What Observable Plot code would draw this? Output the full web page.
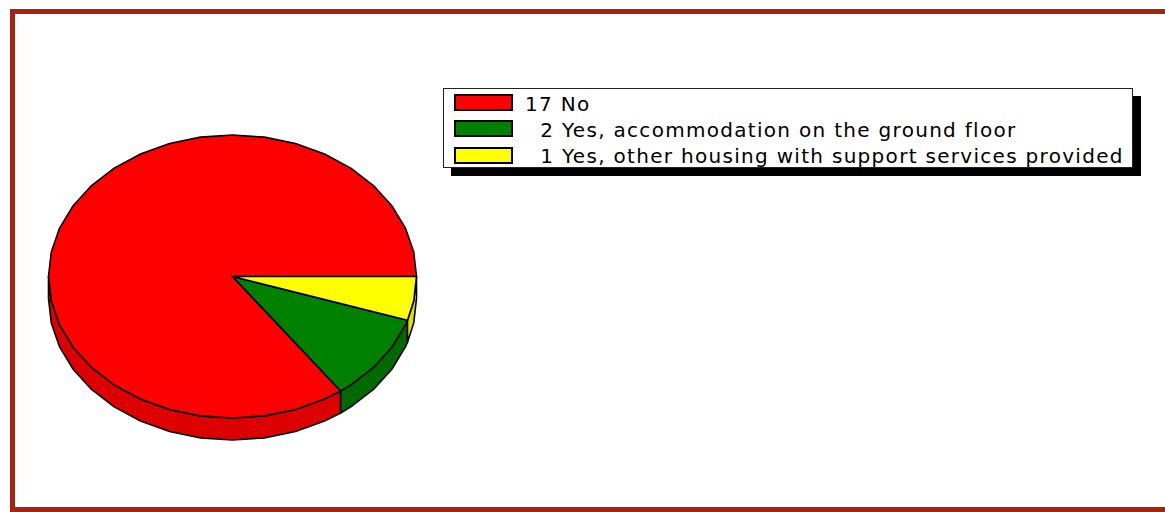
<!DOCTYPE html>
<html><head><meta charset="utf-8">
<script src="https://cdn.jsdelivr.net/npm/d3@7"></script>
<script src="https://cdn.jsdelivr.net/npm/@observablehq/plot@0.6"></script>
<style>
body{margin:0;background:#fff;font-family:"DejaVu Sans",Verdana,sans-serif;}
#wrap{position:relative;width:1165px;height:512px;overflow:hidden;background:#fff;}
#chart{position:absolute;left:0;top:0;}
#frame{position:absolute;left:10px;top:9px;width:1200px;height:493px;border:5px solid #a52410;border-right:none;pointer-events:none;}
#legend{position:absolute;left:443px;top:88px;width:690px;height:80px;box-sizing:border-box;border:1.5px solid #222;background:#fff;box-shadow:8px 8px 0 #000;overflow:hidden;}
.sw{position:absolute;left:10px;width:59px;height:17px;box-sizing:border-box;border:2px solid #000;}
.lt{position:absolute;left:81px;font-size:20px;letter-spacing:1.3px;line-height:23px;white-space:pre;color:#000;}
</style></head><body>
<div id="wrap"><div id="chart"></div><div id="legend"></div><div id="frame"></div></div>
<script>
const categories = ["No", "Yes, accommodation on the ground floor", "Yes, other housing with support services provided"];
const counts = [17, 2, 1];
const topColors = ["#ff0000", "#008000", "#ffff00"];
const sideColors = ["#dd0000", "#006a00", "#e0e000"];
const legendLabels = ["17 No", "  2 Yes, accommodation on the ground floor", "  1 Yes, other housing with support services provided"];

const depth = 22 / 141.5;
const total = d3.sum(counts);
const rad = a => a * Math.PI / 180;

// arc angles (degrees, screen clockwise from 3 o'clock), slices laid counter-clockwise from 0
function arcAngles(a0, a1) {
  const out = [a0];
  for (let a = Math.floor(a0 / 10) * 10 + 10; a < a1; a += 10) out.push(a);
  out.push(a1);
  return out;
}
let cum = 0;
const slices = counts.map((c, i) => {
  const s = cum / total; cum += c; const e = cum / total;
  return {i, a0: 360 * (1 - e), a1: 360 * (1 - s)};
});

const sides = [], tops = [];
slices.forEach(({i, a0, a1}) => {
  const lo = Math.max(a0, 0), hi = Math.min(a1, 180);
  if (hi > lo) {
    const angs = arcAngles(lo, hi);
    angs.forEach(a => sides.push({id: "s" + i, fill: sideColors[i], x: Math.cos(rad(a)), y: Math.sin(rad(a))}));
    angs.slice().reverse().forEach(a => sides.push({id: "s" + i, fill: sideColors[i], x: Math.cos(rad(a)), y: Math.sin(rad(a)) + depth}));
  }
  tops.push({id: "t" + i, fill: topColors[i], x: 0, y: 0});
  arcAngles(a0, a1).forEach(a => tops.push({id: "t" + i, fill: topColors[i], x: Math.cos(rad(a)), y: Math.sin(rad(a))}));
});

const style = {x: "x", y: "y", z: "id", fill: "fill", stroke: "#000", strokeWidth: 1.6, strokeLinejoin: "round", curve: "linear-closed"};
const plot = Plot.plot({
  width: 1165, height: 512, margin: 0,
  style: {background: "transparent"},
  x: {type: "linear", domain: [-1, 1], range: [48, 416], axis: null},
  y: {type: "linear", domain: [-1, 1], range: [134.5, 417.5], axis: null},
  color: {type: "identity"},
  marks: [
    Plot.line(sides, style),
    Plot.line(tops, style)
  ]
});
document.getElementById("chart").appendChild(plot);

const leg = document.getElementById("legend");
legendLabels.forEach((t, i) => {
  const sw = document.createElement("div");
  sw.className = "sw"; sw.style.top = (5 + i * 26.3) + "px"; sw.style.background = topColors[i];
  leg.appendChild(sw);
  const tx = document.createElement("div");
  tx.className = "lt"; tx.style.top = (3.5 + i * 26.3) + "px"; tx.textContent = t;
  leg.appendChild(tx);
});
</script>
</body></html>
